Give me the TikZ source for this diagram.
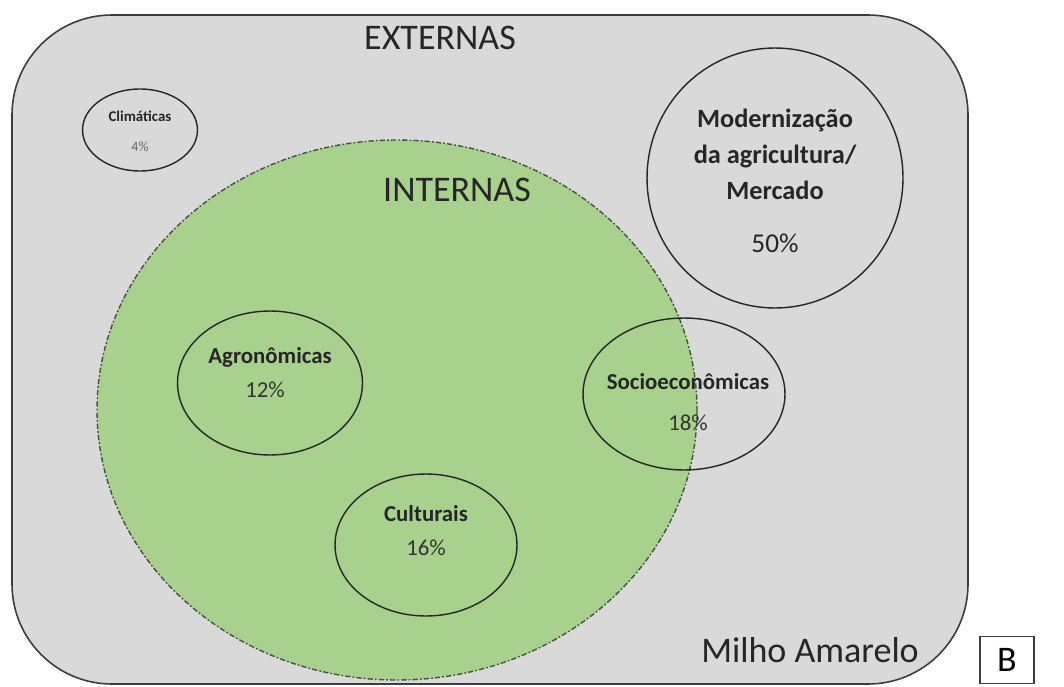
\documentclass[tikz,border=0pt]{standalone}
\usepackage{fontspec}
\setmainfont{Carlito}
\usetikzlibrary{positioning,shapes.geometric}
\definecolor{fundo}{RGB}{217,217,217}
\definecolor{verde}{RGB}{169,209,142}
\definecolor{borda}{RGB}{60,60,60}
\definecolor{tracejado}{RGB}{70,80,62}
\tikzstyle{fator} = [ellipse, draw=black!85, line width=0.8pt, inner sep=0pt]
\tikzstyle{titulo} = [font=\fontsize{20.5}{24}\selectfont, text=black!85]
\tikzstyle{nome} = [font=\bfseries\fontsize{13}{15}\selectfont, text=black!85]
\tikzstyle{pct} = [font=\fontsize{13}{15}\selectfont, text=black!80]

\begin{document}
\begin{tikzpicture}[x=0.02cm,y=-0.02cm]
\useasboundingbox (0,0) rectangle (1064,686);
% moldura
\draw[fill=fundo, draw=borda, line width=0.9pt, rounded corners=2cm] (12,15) rectangle (968,684);
\draw[fill=verde, draw=tracejado, line width=0.8pt, dash pattern=on 3pt off 1.2pt on 1pt off 1.2pt] (397,410) ellipse [x radius=300, y radius=270];
% fatores
\node (clima) [fator, minimum width=2.3cm, minimum height=1.64cm] at (140,130) {};
\node (moder) [fator, minimum width=5.12cm, minimum height=5.2cm] at (775,178) {};
\node (agro) [fator, minimum width=3.7cm, minimum height=2.88cm] at (270,383) {};
\node (socio) [fator, minimum width=4.04cm, minimum height=3.04cm] at (684,394) {};
\node (cult) [fator, minimum width=3.64cm, minimum height=2.84cm] at (426,545) {};
% textos
\node (externas) [titulo] at (440,38) {EXTERNAS};
\node (internas) [titulo] at (457,190) {INTERNAS};
\node (milho) [titulo] at (810,650) {Milho Amarelo};
\node (climanome) [font=\bfseries\fontsize{8.5}{10}\selectfont, text=black!85] at (140,116) {Climáticas};
\node (climapct) [font=\fontsize{8}{10}\selectfont, text=black!60] at (140,147) {4\%};
\node (modernome) [align=center, font=\bfseries\fontsize{15}{20.5}\selectfont, text=black!85] at (775,154) {Modernização\\da agricultura/\\Mercado};
\node (moderpct) [font=\fontsize{15.5}{18}\selectfont, text=black!85] at (775,243) {50\%};
\node (agronome) [nome] at (270,357) {Agronômicas};
\node (agropct) [pct] at (265,390) {12\%};
\node (socionome) [nome] at (688,382) {Socioeconômicas};
\node (sociopct) [pct] at (688,423) {18\%};
\node (cultnome) [nome] at (426,514) {Culturais};
\node (cultpct) [pct] at (426,548) {16\%};
% letra do painel
\node (painel) [draw=borda, line width=0.6pt, minimum width=1.08cm, minimum height=0.94cm, font=\fontsize{20.5}{24}\selectfont] at (1007,660) {B};
\end{tikzpicture}
\end{document}
